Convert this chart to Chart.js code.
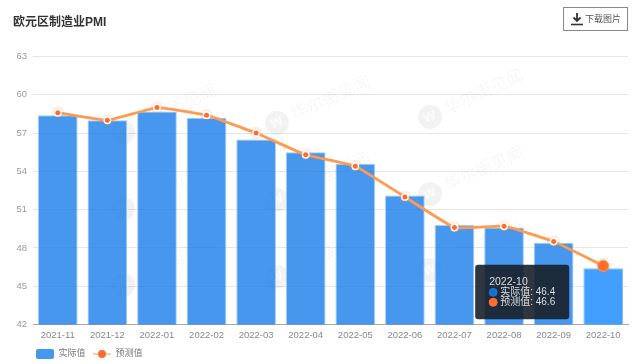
<!DOCTYPE html>
<html>
<head>
<meta charset="utf-8">
<title>欧元区制造业PMI</title>
<script src="https://cdn.jsdelivr.net/npm/chart.js@4"></script>
<style>
html, body { margin: 0; padding: 0; background: #fff; }
#wrap { position: relative; width: 640px; height: 364px; overflow: hidden; filter: blur(0.35px); font-family: "Liberation Sans", "Noto Sans CJK SC", sans-serif; }
#title { position: absolute; left: 13px; top: 15px; font-size: 12px; line-height: 14px; font-weight: bold; color: #333; }
#btn { position: absolute; left: 563px; top: 7px; width: 63px; height: 22px; border: 1px solid #888; color: #555; font-size: 9px; line-height: 22px; }
#btn svg { position: absolute; left: 6px; top: 4px; }
#btn span { position: absolute; left: 21px; top: 0; white-space: nowrap; }
canvas { position: absolute; left: 0; top: 0; }
</style>
</head>
<body>
<div id="wrap">
    <canvas id="pmiChart" width="640" height="364"></canvas>
    <div id="title">欧元区制造业PMI</div>
    <div id="btn">
        <svg width="14" height="14" viewBox="0 0 14 14"><path d="M7 1v7M3.5 5.5L7 9l3.5-3.5" fill="none" stroke="#333" stroke-width="1.8"/><path d="M1 12.5h12" stroke="#333" stroke-width="1.6"/></svg>
        <span>下载图片</span>
    </div>
</div>
<script>
const months = ['2021-11', '2021-12', '2022-01', '2022-02', '2022-03', '2022-04', '2022-05', '2022-06', '2022-07', '2022-08', '2022-09', '2022-10'];
const actual = [58.4, 58.0, 58.7, 58.2, 56.5, 55.5, 54.6, 52.1, 49.8, 49.6, 48.4, 46.4];
const forecast = [58.6, 58.0, 59.0, 58.4, 57.0, 55.3, 54.4, 52.0, 49.6, 49.7, 48.5, 46.6];
const yMin = 42;
const yMax = 63;
const yStep = 3;

const fontFamily = '"Liberation Sans", "Noto Sans CJK SC", sans-serif';
const barColor = 'rgba(24,125,232,0.8)';
const orange = '#ff6d2d';

// legend swatches
function barSwatch() {
    const c = document.createElement('canvas');
    c.width = 18; c.height = 10;
    const x = c.getContext('2d');
    x.fillStyle = '#4698ec';
    x.beginPath();
    x.roundRect(0, 0, 18, 10, 2);
    x.fill();
    return c;
}
function lineSwatch() {
    const c = document.createElement('canvas');
    c.width = 18; c.height = 10;
    const x = c.getContext('2d');
    x.strokeStyle = '#ff9a50';
    x.lineWidth = 1;
    x.beginPath(); x.moveTo(0, 5); x.lineTo(18, 5); x.stroke();
    x.fillStyle = orange;
    x.beginPath(); x.arc(9, 5, 4, 0, Math.PI * 2); x.fill();
    return c;
}

const watermark = {
    id: 'watermark',
    beforeDatasetsDraw(chart) {
        const ctx = chart.ctx;
        const spots = [[123, 132], [123, 209], [123, 285], [277, 123], [277, 200], [277, 277], [430, 117], [430, 194], [430, 270]];
        ctx.save();
        spots.forEach(s => {
            ctx.save();
            ctx.translate(s[0], s[1]);
            ctx.fillStyle = 'rgba(0,0,0,0.05)';
            ctx.beginPath();
            ctx.arc(0, 0, 12, 0, Math.PI * 2);
            ctx.fill();
            ctx.rotate(-24 * Math.PI / 180);
            ctx.fillStyle = 'rgba(0,0,0,0.035)';
            ctx.font = '17px "Noto Sans CJK SC"';
            ctx.textBaseline = 'middle';
            ctx.fillText('华尔街见闻', 17, -2);
            ctx.font = 'bold 13px "Liberation Sans"';
            ctx.textAlign = 'center';
            ctx.fillStyle = 'rgba(255,255,255,0.7)';
            ctx.fillText('W', 0, 0);
            ctx.restore();
        });
        ctx.restore();
    }
};

// soft glow behind the forecast points
const pointHalo = {
    id: 'pointHalo',
    beforeDatasetDraw(chart, args) {
        if (args.index !== 1) return;
        const ctx = chart.ctx;
        ctx.save();
        ctx.fillStyle = 'rgba(255,120,50,0.13)';
        args.meta.data.forEach((p, i) => {
            ctx.beginPath();
            ctx.arc(p.x, p.y, i === months.length - 1 ? 8 : 6.5, 0, Math.PI * 2);
            ctx.fill();
        });
        ctx.restore();
    }
};

// the legend sits under the plot, not at the canvas edge
const legendSpot = {
    id: 'legendSpot',
    afterLayout(chart) {
        chart.legend.left = 28.5;
        chart.legend.top = 342;
    }
};

Chart.Tooltip.positioners.besideBar = function (items) {
    if (!items.length) return false;
    const p = items[items.length - 1].element;
    return { x: p.x - 37, y: p.y - 1 };
};

const chart = new Chart(document.getElementById('pmiChart'), {
    data: {
        labels: months,
        datasets: [{
            type: 'bar',
            label: '实际值',
            data: actual,
            order: 2,
            backgroundColor: barColor,
            borderColor: 'rgba(150,200,250,0.9)',
            borderWidth: 1,
            barPercentage: 0.8,
            categoryPercentage: 1,
            hoverBackgroundColor: '#429fff',
            hoverBorderColor: '#7fbeff',
            hoverBorderWidth: 1
        }, {
            type: 'line',
            label: '预测值',
            data: forecast,
            order: 1,
            borderColor: '#ff9a50',
            borderWidth: 2.8,
            tension: 0.1,
            pointRadius: 3.2,
            pointBackgroundColor: orange,
            pointBorderColor: '#fff',
            pointBorderWidth: 1.4,
            pointHoverRadius: 5.5,
            pointHoverBackgroundColor: orange,
            pointHoverBorderColor: '#ff9a50',
            pointHoverBorderWidth: 1
        }]
    },
    options: {
        responsive: false,
        animation: false,
        events: [],
        layout: { padding: { left: 0, right: 12, top: 56.5, bottom: -9 } },
        scales: {
            x: {
                offset: true,
                grid: { display: false, drawTicks: false },
                border: { color: '#aaa', width: 1 },
                ticks: { color: '#888', font: { size: 9.5, family: fontFamily }, maxRotation: 0, autoSkip: false, padding: 5 },
                afterFit(scale) { scale.height = 22; }
            },
            y: {
                min: yMin,
                max: yMax,
                grid: { color: '#e6e6e6', drawTicks: false },
                border: { display: false },
                ticks: { stepSize: yStep, color: '#999', font: { size: 9.5, family: fontFamily }, padding: 6 },
                afterFit(scale) { scale.width = 33; }
            }
        },
        plugins: {
            title: { display: false },
            legend: {
                display: true,
                position: 'bottom',
                align: 'start',
                labels: {
                    usePointStyle: true,
                    pointStyleWidth: 18,
                    padding: 7.5,
                    color: '#777',
                    font: { size: 9, family: fontFamily },
                    generateLabels: () => [
                        { text: '实际值', pointStyle: barSwatch(), fontColor: '#777', lineWidth: 0, datasetIndex: 0 },
                        { text: '预测值', pointStyle: lineSwatch(), fontColor: '#777', lineWidth: 0, datasetIndex: 1 }
                    ]
                }
            },
            tooltip: {
                position: 'besideBar',
                mode: 'index',
                xAlign: 'right',
                yAlign: 'top',
                caretSize: 0,
                caretPadding: 0,
                cornerRadius: 3,
                backgroundColor: 'rgba(24,32,42,0.9)',
                padding: { x: 14, y: 12 },
                titleColor: '#ddd',
                bodyColor: '#ddd',
                titleFont: { size: 10.5, weight: 'normal', family: fontFamily, lineHeight: 1 },
                bodyFont: { size: 10, family: fontFamily, lineHeight: 1 },
                titleMarginBottom: 0,
                bodySpacing: 0,
                usePointStyle: true,
                boxWidth: 8,
                boxHeight: 8,
                boxPadding: 1,
                multiKeyBackground: 'transparent',
                callbacks: {
                    labelColor: ctx => ctx.datasetIndex === 0
                        ? { borderColor: '#1a70d0', backgroundColor: '#1a70d0' }
                        : { borderColor: orange, backgroundColor: orange },
                    labelPointStyle: () => ({ pointStyle: 'circle', rotation: 0 })
                }
            }
        }
    },
    plugins: [watermark, pointHalo, legendSpot]
});

// last month stays highlighted, same as the original screenshot
const last = months.length - 1;
const activeItems = [{ datasetIndex: 0, index: last }, { datasetIndex: 1, index: last }];
chart.setActiveElements(activeItems);
chart.tooltip.setActiveElements(activeItems, { x: 603, y: 266 });
chart.update();
</script>
</body>
</html>
